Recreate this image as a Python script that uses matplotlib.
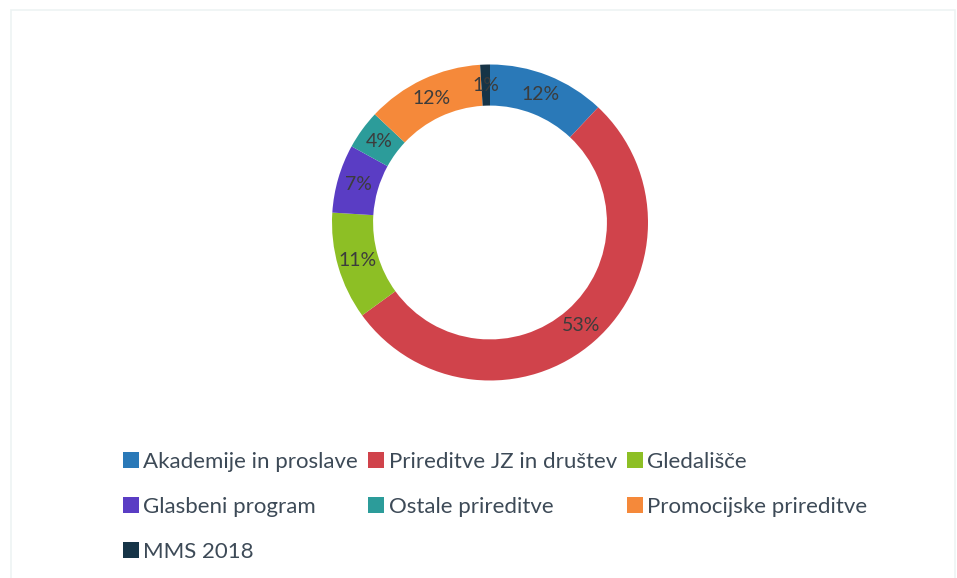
import matplotlib.pyplot as plt
from matplotlib.patches import Rectangle

categories = ['Akademije in proslave', 'Prireditve JZ in društev', 'Gledališče',
              'Glasbeni program', 'Ostale prireditve', 'Promocijske prireditve',
              'MMS 2018']
shares = [12, 53, 11, 7, 4, 12, 1]
colors = ['#2A79B8', '#D0434B', '#8DBF25', '#5A3DC4', '#2C9C9A', '#F5893A', '#163447']

plt.rcParams['font.family'] = ['Lato', 'DejaVu Sans']

fig = plt.figure(figsize=(9.57, 5.78), dpi=100)

# faint frame of the scanned chart
fig.patches.append(Rectangle((11 / 957, -0.01), (955 - 11) / 957, 1 - 10 / 578 + 0.01,
                             transform=fig.transFigure, fill=False,
                             edgecolor='#edf3f3', linewidth=1.2))

ax = fig.add_axes([332 / 957, (578 - 380.5) / 578, 316 / 957, 316 / 578])
wedges, texts, autotexts = ax.pie(shares, colors=colors, startangle=90, counterclock=False,
                                  radius=1, autopct='%1.0f%%', pctdistance=0.87,
                                  wedgeprops=dict(width=0.26, linewidth=0),
                                  textprops=dict(color='#3c3c3c', fontsize=14))
ax.set_xlim(-1, 1)
ax.set_ylim(-1, 1)
ax.set_aspect('equal')
ax.axis('off')

# order handles so legend reads row by row (3 columns)
order = [0, 3, 6, 1, 4, 2, 5]
leg = fig.legend([wedges[i] for i in order], [categories[i] for i in order],
                 loc='upper left', bbox_to_anchor=(123 / 957, 1 - 452 / 578),
                 ncol=3, frameon=False, fontsize=16, borderpad=0, borderaxespad=0,
                 handlelength=0.72, handleheight=0.72, handletextpad=0.2,
                 columnspacing=0.45, labelspacing=1.12)
for t in leg.get_texts():
    t.set_color('#3d4a57')

fig.savefig('out.png', dpi=100)
